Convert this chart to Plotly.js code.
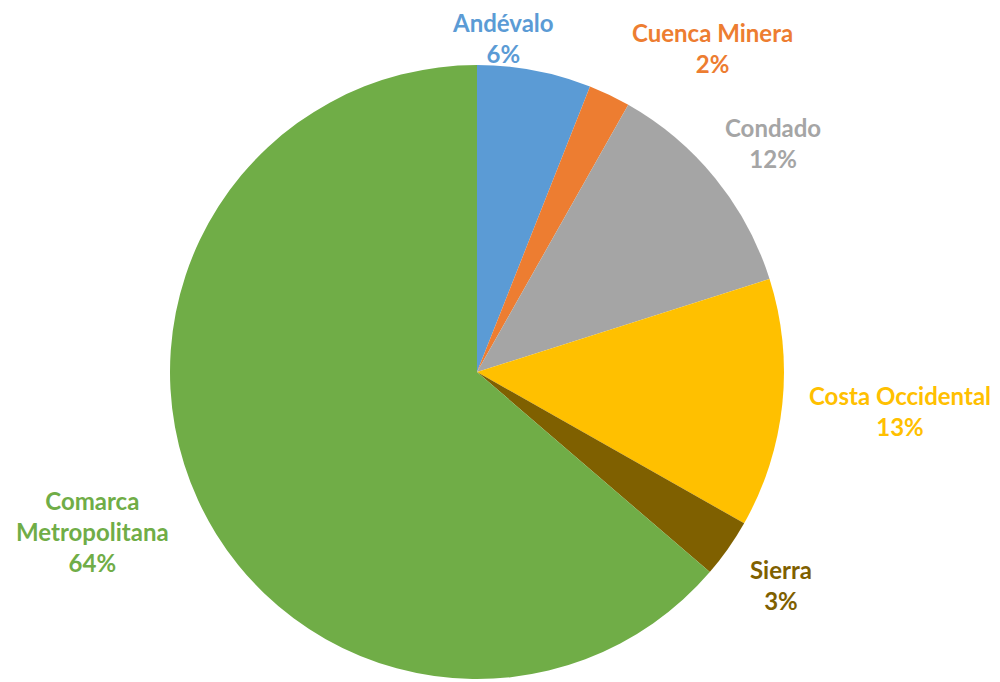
<!DOCTYPE html>
<html>
<head>
<meta charset="utf-8">
<script src="https://cdn.plot.ly/plotly-3.0.1.min.js"></script>
<style>html,body{margin:0;padding:0;background:#fff;}#chart{width:1000px;height:682px;}</style>
</head>
<body>
<div id="chart"></div>
<script>
var categories = ["Andévalo", "Cuenca Minera", "Condado", "Costa Occidental", "Sierra", "Comarca Metropolitana"];
var labelText = ["Andévalo", "Cuenca Minera", "Condado", "Costa Occidental", "Sierra", "Comarca<br>Metropolitana"];
var values = [6.0, 2.2, 11.9, 13.1, 3.1, 63.7];
var colors = ["#5B9BD5", "#ED7D31", "#A5A5A5", "#FFC000", "#7F6000", "#70AD47"];
// label anchor positions (px)
var labelX = [503, 712, 773, 900, 781, 92];
var labelY = [38, 48, 143, 411, 585, 531];

var W = 1000, H = 682;
var total = values.reduce(function(a, b) { return a + b; }, 0);
var annotations = categories.map(function(c, i) {
  return {
    x: labelX[i] / W, y: 1 - labelY[i] / H, xref: "paper", yref: "paper",
    xanchor: "center", yanchor: "middle", showarrow: false,
    text: "<b>" + labelText[i] + "<br>" + Math.round(values[i] / total * 100) + "%</b>",
    font: {family: "Lato, 'Open Sans', sans-serif", size: 24, color: colors[i]},
    align: "center"
  };
});

var trace = {
  type: "pie",
  labels: categories,
  values: values,
  sort: false,
  direction: "clockwise",
  rotation: 0,
  marker: {colors: colors, line: {width: 0}},
  textinfo: "none",
  hoverinfo: "label+percent",
  showlegend: false,
  domain: {x: [170 / W, 784 / W], y: [1 - 679 / H, 1 - 65 / H]}
};

var layout = {
  width: W, height: H,
  margin: {l: 0, r: 0, t: 0, b: 0},
  paper_bgcolor: "#ffffff",
  plot_bgcolor: "#ffffff",
  showlegend: false,
  annotations: annotations
};

Plotly.newPlot("chart", [trace], layout, {displayModeBar: false, staticPlot: true});
</script>
</body>
</html>
